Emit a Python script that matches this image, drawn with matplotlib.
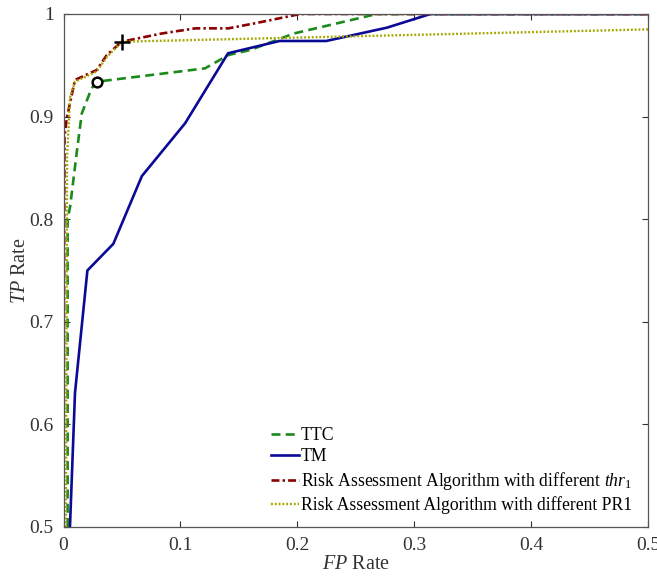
import matplotlib
matplotlib.use('Agg')
import matplotlib.pyplot as plt

# 全局字体: Times 风格
plt.rcParams['font.family'] = ['Liberation Serif', 'DejaVu Serif']
plt.rcParams['mathtext.fontset'] = 'custom'
plt.rcParams['mathtext.rm'] = 'Liberation Serif'
plt.rcParams['mathtext.it'] = 'Liberation Serif:italic'

# ROC 曲线数据
ttc_fp = [0.0035, 0.0035, 0.0056, 0.0113, 0.0156, 0.024, 0.0284, 0.121, 0.141, 0.16, 0.197, 0.268, 0.5]
ttc_tp = [0.5, 0.80, 0.812, 0.865, 0.903, 0.9276, 0.934, 0.947, 0.96, 0.965, 0.981, 1.0, 1.0]

tm_fp = [0.0055, 0.0098, 0.0204, 0.0426, 0.067, 0.104, 0.1407, 0.1848, 0.2247, 0.2767, 0.3138, 0.5]
tm_tp = [0.5, 0.6306, 0.75, 0.776, 0.842, 0.8935, 0.9617, 0.9737, 0.9737, 0.9867, 1.0, 1.0]

thr_fp = [0.0, 0.0008, 0.0027, 0.0098, 0.0284, 0.037, 0.0498, 0.084, 0.1126, 0.141, 0.164, 0.2025, 0.5]
thr_tp = [0.5, 0.88, 0.898, 0.9357, 0.9454, 0.96, 0.973, 0.981, 0.986, 0.986, 0.991, 1.0, 1.0]

pr1_fp = [0.002, 0.003, 0.0056, 0.0098, 0.0284, 0.037, 0.0498, 0.5]
pr1_tp = [0.5, 0.86, 0.919, 0.934, 0.944, 0.958, 0.973, 0.985]

# 标记点
plus_fp, plus_tp = 0.0498, 0.973
circ_fp, circ_tp = 0.0284, 0.934

xticks = [0, 0.1, 0.2, 0.3, 0.4, 0.5]
xtick_labels = ['0', '0.1', '0.2', '0.3', '0.4', '0.5']
yticks = [0.5, 0.6, 0.7, 0.8, 0.9, 1.0]
ytick_labels = ['0.5', '0.6', '0.7', '0.8', '0.9', '1']

fig = plt.figure(figsize=(6.57, 5.76), dpi=100)
ax = fig.add_axes([0.0967, 0.0851, 0.8897, 0.8906])

lw = 1.9
ax.plot(ttc_fp, ttc_tp, color='#1b8a1b', linewidth=lw, dashes=(3.4, 2.0), label='TTC')
ax.plot(tm_fp, tm_tp, color='#0a0a96', linewidth=lw, label='TM')
ax.plot(thr_fp, thr_tp, color='#8b0000', linewidth=lw, dashes=(3.0, 1.2, 0.9, 1.2),
        label=r'Risk Assessment Algorithm with different $\mathit{thr}_1$')
ax.plot(pr1_fp, pr1_tp, color='#a6a600', linewidth=lw * 0.9, dashes=(0.8, 0.8),
        label='Risk Assessment Algorithm with different PR1')

ax.plot(plus_fp, plus_tp, marker='+', color='black', markersize=11, markeredgewidth=1.8)
ax.plot(circ_fp, circ_tp, marker='o', color='black', markerfacecolor='white',
        markersize=7, markeredgewidth=1.8)

ax.set_xlim(0, 0.5)
ax.set_ylim(0.5, 1.0)
ax.set_xticks(xticks)
ax.set_xticklabels(xtick_labels)
ax.set_yticks(yticks)
ax.set_yticklabels(ytick_labels)
ax.tick_params(direction='in', length=4, width=0.8, labelsize=14, colors='#333333',
               top=True, right=True, pad=7)
for s in ax.spines.values():
    s.set_color('#555555')
    s.set_linewidth(0.9)

ax.set_xlabel(r'$\mathit{FP}$ Rate', fontsize=14.5, color='#333333', labelpad=1)
ax.set_ylabel(r'$\mathit{TP}$ Rate', fontsize=14.5, color='#333333', labelpad=0)

ax.legend(loc='lower left', bbox_to_anchor=(0.355, 0.025), frameon=False,
          fontsize=12.7, handlelength=1.6, handletextpad=0.1, borderpad=0,
          borderaxespad=0, labelspacing=0.25)

plt.savefig('out.png', dpi=100)
plt.close()
